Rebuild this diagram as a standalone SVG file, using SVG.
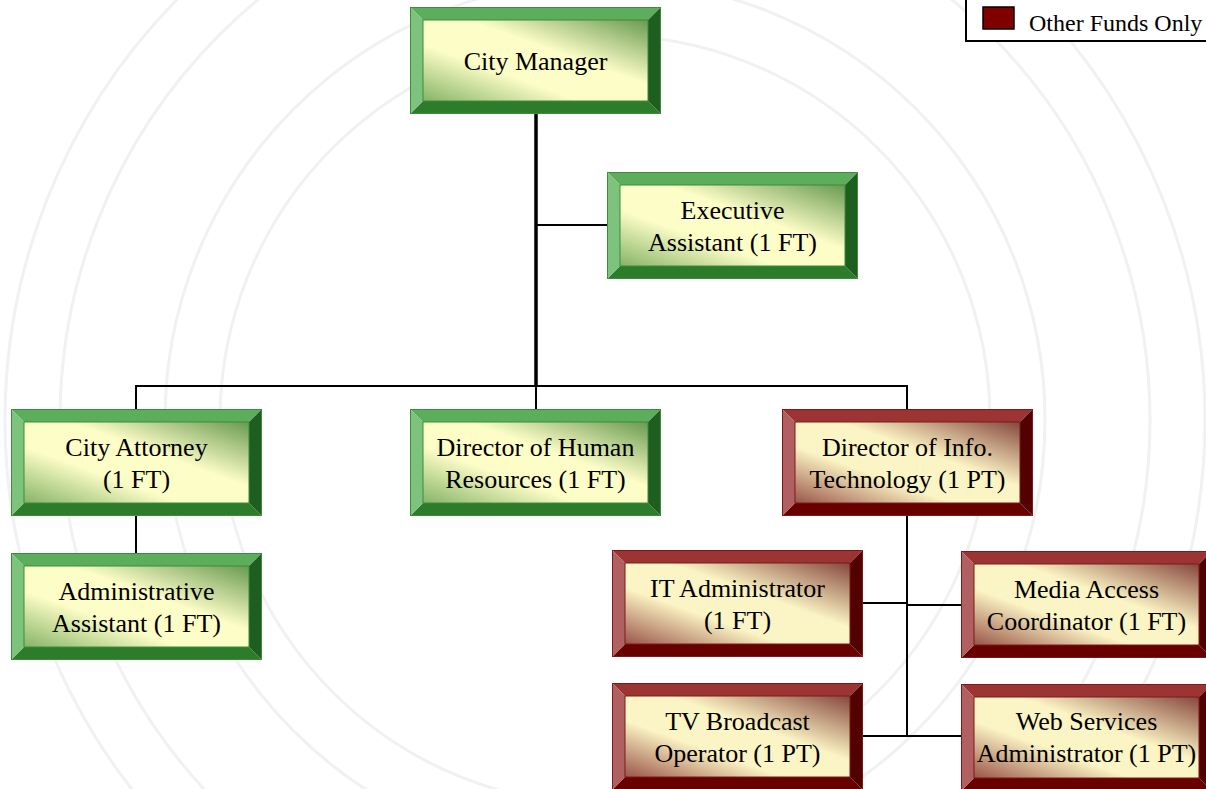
<svg xmlns="http://www.w3.org/2000/svg" xmlns:xlink="http://www.w3.org/1999/xlink" width="1206" height="789" viewBox="0 0 1206 789">
<defs>
<style>
.lbl{font-family:"Liberation Serif","Times New Roman",serif;font-size:26px;fill:#000;text-anchor:middle}
.leg{font-family:"Liberation Serif","Times New Roman",serif;font-size:24px;fill:#000}
.wm{fill:none;stroke:#f1f1f1;stroke-width:3}
.ln{stroke:#000;stroke-width:2;fill:none}
.trunk{stroke:#000;stroke-width:3.5;fill:none}
</style>
<linearGradient id="faceG" x1="0" y1="1" x2="1" y2="0">
<stop offset="0" stop-color="#86b466"/>
<stop offset="0.35" stop-color="#fdfdc8"/>
<stop offset="0.6" stop-color="#fdfdc8"/>
<stop offset="1" stop-color="#689a50"/>
</linearGradient>
<linearGradient id="faceR" x1="0" y1="1" x2="1" y2="0">
<stop offset="0" stop-color="#9a5548"/>
<stop offset="0.35" stop-color="#fbf4c4"/>
<stop offset="0.6" stop-color="#fbf4c4"/>
<stop offset="1" stop-color="#86463c"/>
</linearGradient>
<g id="frameG">
<polygon points="0,0 251,0 238,13 13,13" fill="#5cad5c"/>
<polygon points="0,107 251,107 238,94 13,94" fill="#2c7c2c"/>
<polygon points="0,0 13,13 13,94 0,107" fill="#7dc27d"/>
<polygon points="251,0 238,13 238,94 251,107" fill="#1e5e1e"/>
<rect x="13" y="13" width="225" height="81" fill="url(#faceG)" stroke="#3c8c3c" stroke-width="1"/>
<rect x="0.5" y="0.5" width="250" height="106" fill="none" stroke="#3c8c3c" stroke-width="1"/>
</g>
<g id="frameR">
<polygon points="0,0 251,0 238,13 13,13" fill="#9c3434"/>
<polygon points="0,107 251,107 238,94 13,94" fill="#680000"/>
<polygon points="0,0 13,13 13,94 0,107" fill="#b06060"/>
<polygon points="251,0 238,13 238,94 251,107" fill="#520000"/>
<rect x="13" y="13" width="225" height="81" fill="url(#faceR)" stroke="#7a1a1a" stroke-width="1"/>
<rect x="0.5" y="0.5" width="250" height="106" fill="none" stroke="#7a1a1a" stroke-width="1"/>
</g>
</defs>
<rect width="1206" height="789" fill="#fff"/>
<g id="watermark">
<circle class="wm" cx="605" cy="420" r="600"/>
<circle class="wm" cx="605" cy="420" r="545"/>
<circle class="wm" cx="605" cy="420" r="440"/>
<circle class="wm" cx="605" cy="420" r="385"/>
</g>
<g id="connectors">
<line class="trunk" x1="536" y1="114" x2="536" y2="386"/>
<line class="ln" x1="536" y1="225" x2="607" y2="225"/>
<line class="ln" x1="135" y1="386" x2="908" y2="386"/>
<line class="ln" x1="136" y1="385" x2="136" y2="409"/>
<line class="ln" x1="536" y1="385" x2="536" y2="409"/>
<line class="ln" x1="907" y1="385" x2="907" y2="409"/>
<line class="ln" x1="136" y1="516" x2="136" y2="553"/>
<line class="ln" x1="907" y1="516" x2="907" y2="737"/>
<line class="ln" x1="863" y1="603" x2="907" y2="603"/>
<line class="ln" x1="907" y1="605" x2="961" y2="605"/>
<line class="ln" x1="863" y1="736" x2="961" y2="736"/>
</g>
<g id="cityManager">
<use xlink:href="#frameG" href="#frameG" x="410" y="7"/>
<text class="lbl" x="535.5" y="70">City Manager</text>
</g>
<g id="executiveAssistant">
<use xlink:href="#frameG" href="#frameG" x="607" y="172"/>
<text class="lbl" x="732.5" y="219">Executive</text>
<text class="lbl" x="732.5" y="251">Assistant (1 FT)</text>
</g>
<g id="cityAttorney">
<use xlink:href="#frameG" href="#frameG" x="11" y="409"/>
<text class="lbl" x="136.5" y="456">City Attorney</text>
<text class="lbl" x="136.5" y="488">(1 FT)</text>
</g>
<g id="directorHR">
<use xlink:href="#frameG" href="#frameG" x="410" y="409"/>
<text class="lbl" x="535.5" y="456">Director of Human</text>
<text class="lbl" x="535.5" y="488">Resources (1 FT)</text>
</g>
<g id="directorIT">
<use xlink:href="#frameR" href="#frameR" x="782" y="409"/>
<text class="lbl" x="907.5" y="456">Director of Info.</text>
<text class="lbl" x="907.5" y="488">Technology (1 PT)</text>
</g>
<g id="adminAssistant">
<use xlink:href="#frameG" href="#frameG" x="11" y="553"/>
<text class="lbl" x="136.5" y="600">Administrative</text>
<text class="lbl" x="136.5" y="632">Assistant (1 FT)</text>
</g>
<g id="itAdministrator">
<use xlink:href="#frameR" href="#frameR" x="612" y="550"/>
<text class="lbl" x="737.5" y="597">IT Administrator</text>
<text class="lbl" x="737.5" y="629">(1 FT)</text>
</g>
<g id="mediaAccess">
<use xlink:href="#frameR" href="#frameR" x="961" y="551"/>
<text class="lbl" x="1086.5" y="598">Media Access</text>
<text class="lbl" x="1086.5" y="630">Coordinator (1 FT)</text>
</g>
<g id="tvBroadcast">
<use xlink:href="#frameR" href="#frameR" x="612" y="683"/>
<text class="lbl" x="737.5" y="730">TV Broadcast</text>
<text class="lbl" x="737.5" y="762">Operator (1 PT)</text>
</g>
<g id="webServices">
<use xlink:href="#frameR" href="#frameR" x="961" y="684"/>
<text class="lbl" x="1086.5" y="730">Web Services</text>
<text class="lbl" x="1086.5" y="762">Administrator (1 PT)</text>
</g>
<g id="legend">
<rect x="966" y="-10" width="250" height="51" fill="#fff" stroke="#000" stroke-width="2"/>
<rect x="983" y="7" width="31" height="22" fill="#800000" stroke="#000" stroke-width="1.5"/>
<text class="leg" x="1029" y="31">Other Funds Only</text>
</g>
</svg>
